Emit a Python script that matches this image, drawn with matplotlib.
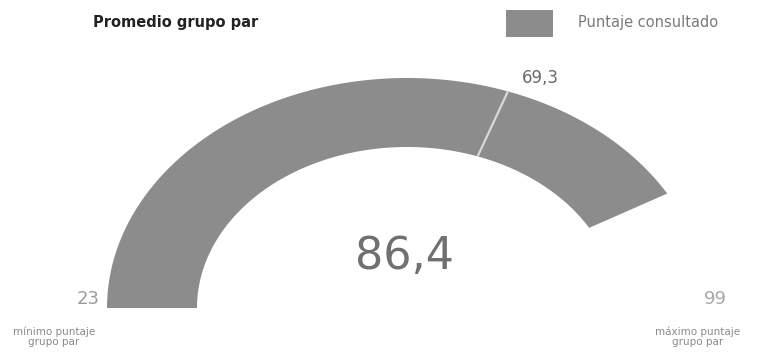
import numpy as np
import matplotlib
matplotlib.use("Agg")
import matplotlib.pyplot as plt

# Data
min_score = 23
max_score = 99
peer_avg = 69.3
score = 86.4
legend_labels = ["Promedio grupo par", "Puntaje consultado"]
min_label = "mínimo puntaje\ngrupo par"
max_label = "máximo puntaje\ngrupo par"

def fmt(v):
    s = f"{v:g}"
    return s.replace(".", ",")

W, H = 768, 352
fig = plt.figure(figsize=(W / 100, H / 100), dpi=100)
ax = fig.add_axes([0, 0, 1, 1])
ax.set_xlim(0, W)
ax.set_ylim(H, 0)
ax.axis("off")

FONT = "DejaVu Sans"

cx, cy = 407, 308
rx_o, ry_o = 300, 230
ratio = 0.70
rx_i, ry_i = rx_o * ratio, ry_o * ratio

def ang(v):
    return np.pi * (1 - (v - min_score) / (max_score - min_score))

arc_color = "#8c8c8c"
t = np.linspace(ang(min_score), ang(score), 300)
xo = cx + rx_o * np.cos(t)
yo = cy - ry_o * np.sin(t)
xi = cx + rx_i * np.cos(t[::-1])
yi = cy - ry_i * np.sin(t[::-1])
ax.fill(np.concatenate([xo, xi]), np.concatenate([yo, yi]), color=arc_color, lw=0)

# peer average marker
a = ang(peer_avg)
ax.plot([cx + rx_i * np.cos(a), cx + rx_o * np.cos(a)],
        [cy - ry_i * np.sin(a), cy - ry_o * np.sin(a)],
        color="#d8d8d8", lw=1.6, solid_capstyle="butt")
ax.text(cx + rx_o * np.cos(a) + 32, cy - ry_o * np.sin(a) - 13, fmt(peer_avg),
        fontsize=12, color="#6a6a6a", ha="center", va="center", family=FONT)

# center value
ax.text(405, 257, fmt(score), fontsize=32, color="#707070", ha="center", va="center",
        family=FONT)

# min / max
ax.text(100, 299, fmt(min_score), fontsize=13, color="#9a9a9a", ha="right", va="center",
        family=FONT)
ax.text(715, 299, fmt(max_score), fontsize=13, color="#a8a8a8", ha="center", va="center",
        family=FONT)
ax.text(54, 337, min_label, fontsize=7.5, color="#8a8a8a", ha="center", va="center",
        linespacing=1.05, family=FONT)
ax.text(698, 337, max_label, fontsize=7.5, color="#8a8a8a", ha="center", va="center",
        linespacing=1.05, family=FONT)

# legend
ax.text(93, 22, legend_labels[0], fontsize=10.5, color="#222222", ha="left", va="center",
        family=FONT, fontweight="bold")
ax.add_patch(plt.Rectangle((506, 10), 47, 27, color=arc_color, lw=0))
ax.text(578, 23, legend_labels[1], fontsize=10.5, color="#7a7a7a", ha="left", va="center",
        family=FONT)

fig.savefig("out.png", dpi=100, facecolor="white")
